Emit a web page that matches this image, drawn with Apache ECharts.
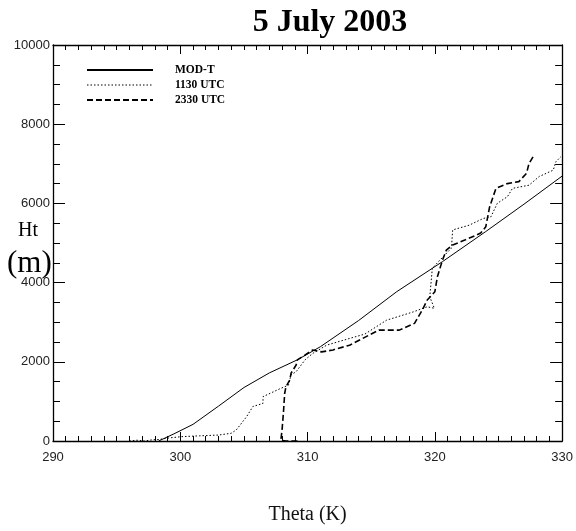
<!DOCTYPE html>
<html>
<head>
<meta charset="utf-8">
<script src="https://cdn.jsdelivr.net/npm/echarts@6/dist/echarts.min.js"></script>
<style>
  html, body { margin: 0; padding: 0; background: #fff; }
  #chart { width: 576px; height: 531px; }
</style>
</head>
<body>
<div id="chart"></div>
<script>
// potential temperature (K) vs height (m)
const modTTheta = [298.3, 299.5, 301, 303, 305, 307, 309.2, 311, 314, 317, 320.6, 324, 327, 330];
const modTHt    = [0, 180, 420, 880, 1350, 1720, 2050, 2380, 3040, 3770, 4530, 5290, 5980, 6690];

const u1130Theta = [296.0, 296.6, 297.2, 297.8, 298.4, 298.9, 299.5, 300.1, 301.5, 303, 304, 304.4, 305.2, 305.7,
  306.5, 306.5, 307.9, 308.5, 308.7, 309.1, 309.8, 310.4, 311.5, 313.3, 314.5, 316.2, 318.3, 319.4, 319.96,
  319.6, 319.8, 320.4, 321.3, 321.4, 322.7, 323.8, 324.4, 324.9, 325.7, 326.1, 327.4, 328.2, 329.3, 329.5, 329.9];
const u1130Ht = [0, 20, 0, 30, 40, 70, 90, 110, 130, 150, 195, 280, 610, 870,
  950, 1120, 1330, 1410, 1670, 1750, 2050, 2210, 2420, 2590, 2700, 3050, 3260, 3390, 3350,
  3640, 4360, 4570, 4870, 5330, 5450, 5620, 5660, 6000, 6170, 6380, 6460, 6680, 6840, 7050, 7180];

const u2330Theta = [309.2, 308.3, 307.9, 308.0, 308.1, 308.2, 308.3, 308.6, 308.7, 309.1, 309.2, 309.6, 310.4,
  311.1, 312.0, 313.3, 315.6, 317.2, 318.4, 319.0, 319.4, 320.0, 320.2, 320.6, 320.9, 321.4, 322.4, 323.6,
  324.0, 324.3, 324.8, 325.7, 326.6, 327.2, 327.4, 327.8];
const u2330Ht = [0, 0, 20, 300, 700, 1200, 1370, 1540, 1710, 1920, 2050, 2130, 2300,
  2250, 2300, 2420, 2800, 2800, 2970, 3300, 3560, 3770, 4150, 4570, 4820, 4950, 5080, 5250,
  5410, 5910, 6380, 6500, 6550, 6760, 7010, 7220];

const xTicks = { min: 290, max: 330, interval: 10 };
const yTicks = { min: 0, max: 10000, interval: 2000 };

const zip = (a, b) => a.map((v, i) => [v, b[i]]);

const chart = echarts.init(document.getElementById('chart'));

const labelFont = { color: '#222', fontFamily: 'Liberation Sans', fontSize: 13 };
const axisLine = { show: true, onZero: false, lineStyle: { color: '#000', width: 1.3 } };

function xAxis(pos, showLabel) {
  return {
    type: 'value', position: pos, ...xTicks,
    axisLine, splitLine: { show: false },
    axisTick: { inside: true, length: 9, lineStyle: { color: '#000' } },
    minorTick: { show: true, splitNumber: 10, length: 5, lineStyle: { color: '#000' } },
    axisLabel: { show: showLabel, margin: 10, formatter: v => String(v), ...labelFont }
  };
}
function yAxis(pos, showLabel) {
  return {
    type: 'value', position: pos, ...yTicks,
    axisLine, splitLine: { show: false },
    axisTick: { inside: true, length: 12, lineStyle: { color: '#000' } },
    minorTick: { show: true, splitNumber: 4, length: 7, lineStyle: { color: '#000' } },
    axisLabel: { show: showLabel, margin: 3, formatter: v => String(v), ...labelFont }
  };
}

const xBottom = xAxis('bottom', true);
xBottom.name = 'Theta (K)';
xBottom.nameLocation = 'middle';
xBottom.nameGap = 64;
xBottom.nameTextStyle = { fontFamily: 'Liberation Serif', fontSize: 20, color: '#111' };

const noSymbol = { color: 'transparent', borderWidth: 0, opacity: 0 };

chart.setOption({
  animation: false,
  backgroundColor: '#fff',
  title: {
    text: '5 July 2003', left: 325, top: 2, textAlign: 'center',
    textStyle: { fontFamily: 'Liberation Serif', fontWeight: 'bold', fontSize: 32, color: '#000' }
  },
  grid: { left: 53, right: 13, top: 45, bottom: 90 },
  xAxis: [xBottom, xAxis('top', false)],
  yAxis: [yAxis('left', true), yAxis('right', false)],
  legend: {
    orient: 'vertical', left: 86, top: 64, padding: 0,
    itemWidth: 66, itemHeight: 10, itemGap: 3,
    itemStyle: noSymbol,
    textStyle: { fontFamily: 'Liberation Serif', fontWeight: 'bold', fontSize: 11.5, color: '#000', padding: [0, 0, 0, 17] },
    data: [
      { name: 'MOD-T', lineStyle: { width: 2 } },
      { name: '1130 UTC', lineStyle: { width: 1 } },
      { name: '2330 UTC', lineStyle: { width: 2 } }
    ]
  },
  graphic: [
    { type: 'text', left: 18, top: 221, style: { text: 'Ht', font: '20px "Liberation Serif"', fill: '#000' } },
    { type: 'text', left: 7, top: 248, style: { text: '(m)', font: '31px "Liberation Serif"', fill: '#000' } }
  ],
  series: [
    { name: 'MOD-T', type: 'line', symbol: 'none', data: zip(modTTheta, modTHt),
      lineStyle: { color: '#000', width: 1, type: 'solid' }, itemStyle: { color: '#000' } },
    { name: '1130 UTC', type: 'line', symbol: 'none', data: zip(u1130Theta, u1130Ht),
      lineStyle: { color: '#000', width: 1, type: [1.5, 2] }, itemStyle: { color: '#000' } },
    { name: '2330 UTC', type: 'line', symbol: 'none', data: zip(u2330Theta, u2330Ht),
      lineStyle: { color: '#000', width: 1.6, type: [6, 3] }, itemStyle: { color: '#000' } }
  ]
});
</script>
</body>
</html>
